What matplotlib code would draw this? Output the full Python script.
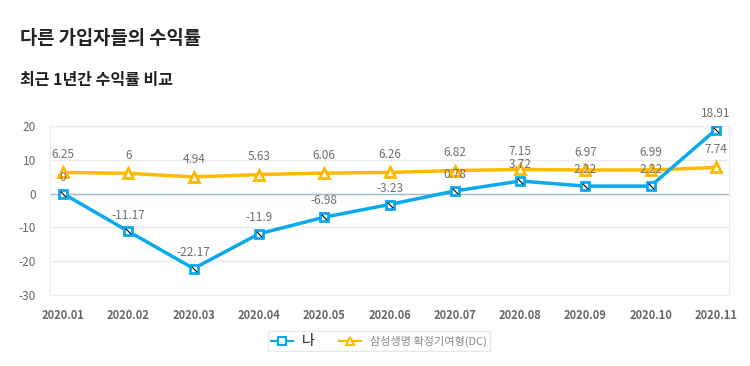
import numpy as np
import matplotlib.pyplot as plt
from matplotlib.path import Path
from matplotlib.lines import Line2D

plt.rcParams['font.family'] = ['Noto Sans CJK KR', 'DejaVu Sans']
plt.rcParams['axes.unicode_minus'] = False

months = ['2020.01', '2020.02', '2020.03', '2020.04', '2020.05', '2020.06',
          '2020.07', '2020.08', '2020.09', '2020.10', '2020.11']
mine = [0, -11.17, -22.17, -11.9, -6.98, -3.23, 0.78, 3.72, 2.22, 2.22, 18.91]
dc = [6.25, 6, 4.94, 5.63, 6.06, 6.26, 6.82, 7.15, 6.97, 6.99, 7.74]
yticks = [20, 10, 0, -10, -20, -30]

blue = '#0AA8EC'
yellow = '#FFB900'
grey = '#6E6E6E'

fig = plt.figure(figsize=(7.5, 3.66), dpi=100)
fig.text(20 / 750, 1 - 38 / 366, '다른 가입자들의 수익률', fontsize=13.5,
         fontweight='bold', color='#222222', va='center')
fig.text(20 / 750, 1 - 80 / 366, '최근 1년간 수익률 비교', fontsize=11.5,
         fontweight='bold', color='#222222', va='center')

ax = fig.add_axes([50 / 750, 71 / 366, 679 / 750, 169 / 366])
x = np.arange(len(months))

ax.axhline(0, color='#A8BCCE', lw=1, zorder=1)
ax.plot(x, dc, color=yellow, lw=2.5, marker='^', ms=7, mfc='white',
        mec=yellow, mew=2, zorder=3)
ax.plot(x, mine, color=blue, lw=2.5, marker='s', ms=6, mfc='white',
        mec=blue, mew=2, zorder=4)
diag = Path([(-1, 1), (1, -1)], [Path.MOVETO, Path.LINETO])
ax.plot(x, mine, ls='none', marker=diag, ms=4, mec='black', mew=0.8, zorder=5)

for i in range(len(months)):
    ax.annotate(f'{dc[i]:g}', (x[i], dc[i]), xytext=(0, 8), textcoords='offset points',
                ha='center', va='bottom', fontsize=8.5, color=grey, zorder=6)
    ax.annotate(f'{mine[i]:g}', (x[i], mine[i]), xytext=(0, 7), textcoords='offset points',
                ha='center', va='bottom', fontsize=8.5, color=grey, zorder=6)

ax.set_xlim(-0.2, 10.2)
ax.set_ylim(-30, 20)
ax.set_yticks(yticks)
ax.set_xticks(x)
ax.set_xticklabels(months)
ax.grid(axis='y', color='#EBEBEB', lw=1)
ax.set_axisbelow(True)
for s in ax.spines.values():
    s.set_color('#EBEBEB')
ax.tick_params(length=0, labelsize=8, labelcolor='#666666', pad=10)
ax.tick_params(axis='y', pad=10, labelsize=8.5)
for t in ax.get_xticklabels():
    t.set_fontweight('bold')

handles = [
    Line2D([], [], color=blue, lw=1.5, marker='s', ms=5.5, mfc='white', mec=blue, mew=1.5),
    Line2D([], [], color=yellow, lw=1.5, marker='^', ms=6, mfc='white', mec=yellow, mew=1.5),
]
leg = fig.legend(handles, ['나', '삼성생명 확정기여형(DC)'], loc='center',
                 bbox_to_anchor=(379 / 750, 1 - 341 / 366), ncol=2, fontsize=8,
                 frameon=True, fancybox=False, edgecolor='#E3E3E3',
                 handlelength=2.0, handletextpad=0.8, columnspacing=2.2,
                 borderpad=0.3)
leg.get_texts()[0].set_color('#111111')
leg.get_texts()[0].set_fontsize(10)
leg.get_texts()[1].set_color('#888888')

fig.savefig('out.png', dpi=100)
